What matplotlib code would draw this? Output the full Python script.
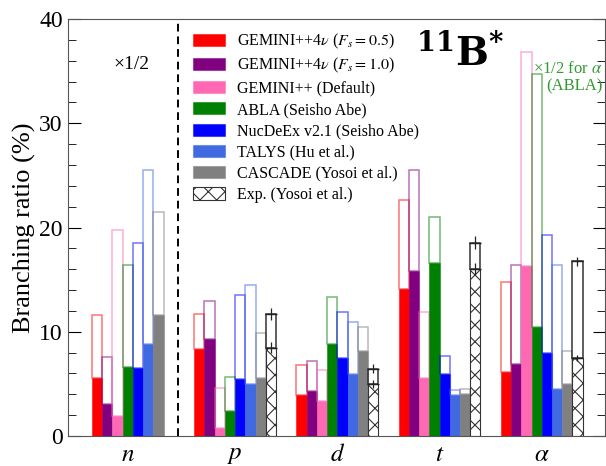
import numpy as np
import matplotlib
matplotlib.use('Agg')
import matplotlib.pyplot as plt
from matplotlib.colors import to_rgba

plt.rcParams['font.family'] = 'Liberation Serif'
plt.rcParams['mathtext.fontset'] = 'stix'
plt.rcParams['hatch.linewidth'] = 0.8

# Branching ratio data (%) for n, p, d, t, alpha
particles = [r'$n$', r'$p$', r'$d$', r'$t$', r'$\alpha$']

labels = [r'GEMINI++4$\nu$ ($F_s = 0.5$)', r'GEMINI++4$\nu$ ($F_s = 1.0$)',
          'GEMINI++ (Default)', 'ABLA (Seisho Abe)', 'NucDeEx v2.1 (Seisho Abe)',
          'TALYS (Hu et al.)', 'CASCADE (Yosoi et al.)']
colors = ['#ff0000', '#800080', '#ff69b4', '#008000', '#0000ff', '#4169e1', '#808080']

# filled part (lower) and outlined part (upper)
gem05_lo = [5.55, 8.35, 3.94, 14.1, 6.14]
gem10_lo = [3.07, 9.34, 4.35, 15.8, 6.94]
gemdf_lo = [1.95, 0.77, 3.39, 5.54, 16.3]
abla_lo  = [6.66, 2.43, 8.86, 16.6, 10.5]
nucde_lo = [6.56, 5.44, 7.46, 5.95, 7.97]
talys_lo = [8.86, 5.02, 5.95, 3.94, 4.54]
casc_lo  = [11.58, 5.54, 8.19, 4.06, 4.96]

gem05_up = [11.58, 11.68, 6.85, 22.6, 14.75]
gem10_up = [7.58, 12.96, 7.2, 25.5, 16.4]
gemdf_up = [19.76, 4.64, 6.37, 11.87, 36.8]
abla_up  = [16.4, 5.66, 13.3, 20.96, 34.7]
nucde_up = [18.5, 13.5, 11.94, 7.68, 19.26]
talys_up = [25.5, 14.5, 10.98, 4.38, 16.45]
casc_up  = [21.5, 9.89, 10.43, 4.48, 8.13]

exp_lo     = [np.nan, 8.48, 4.99, 16.0, 7.49]
exp_lo_err = [np.nan, 0.5, 0.4, 0.6, 0.3]
exp_up     = [np.nan, 11.68, 6.46, 18.56, 16.74]
exp_up_err = [np.nan, 0.55, 0.4, 0.6, 0.4]

lows = [gem05_lo, gem10_lo, gemdf_lo, abla_lo, nucde_lo, talys_lo, casc_lo]
ups  = [gem05_up, gem10_up, gemdf_up, abla_up, nucde_up, talys_up, casc_up]

fig = plt.figure(figsize=(6.06, 4.66), dpi=100)
ax = fig.add_axes([0.1114, 0.0644, 0.8871, 0.8948])

pos = np.arange(len(particles))
width = 0.1
handles = []
for i in range(7):
	x = pos - 0.35 + i * width
	lo = np.array(lows[i])
	up = np.array(ups[i])
	h = ax.bar(x, lo, width, color=colors[i], edgecolor=to_rgba(colors[i], 0.5), linewidth=0.8)
	ax.bar(x, up - lo, width, bottom=lo, facecolor='none',
	       edgecolor=to_rgba(colors[i], 0.55), linewidth=1.1)
	handles.append(h)

# experiment
x = pos[1:] - 0.35 + 7 * width
elo = np.array(exp_lo[1:])
eup = np.array(exp_up[1:])
h = ax.bar(x, elo, width, facecolor='white', edgecolor='#333333', hatch='xx', linewidth=0.8)
ax.bar(x, eup - elo, width, bottom=elo, facecolor='none', edgecolor='#333333', linewidth=1.1)
ax.errorbar(x, elo, yerr=exp_lo_err[1:], fmt='_', color='#222222', ms=8, elinewidth=0.9)
ax.errorbar(x, eup, yerr=exp_up_err[1:], fmt='_', color='#222222', ms=8, elinewidth=0.9)
handles.append(h)
labels.append('Exp. (Yosoi et al.)')

ax.axvline(0.44, color='black', linestyle='--', linewidth=1.4, dashes=(4, 2.5))

ax.set_xlim(-0.64, 4.62)
ax.set_ylim(0, 40)
ax.set_xticks([-0.05, 1, 2, 3, 4])
ax.set_xticklabels(particles, fontsize=18)
ax.tick_params(axis='x', length=0, pad=6)
ax.set_yticks(np.arange(0, 41, 10))
ax.set_yticks(np.arange(0, 41, 2), minor=True)
ax.tick_params(axis='y', which='both', direction='in', left=True, right=True, labelsize=17)
ax.tick_params(axis='y', which='major', length=9)
ax.tick_params(axis='y', which='minor', length=6)
ax.set_ylabel('Branching ratio (%)', fontsize=19, labelpad=2)
for s in ax.spines.values():
	s.set_color('#555555')

ax.legend(handles, labels, loc='upper left', bbox_to_anchor=(0.221, 0.985), frameon=False,
          fontsize=11.5, handlelength=2.0, handleheight=0.8, handletextpad=0.8,
          labelspacing=0.33, borderaxespad=0)

ax.text(0.119, 0.89, u'\u00d71/2', transform=ax.transAxes, fontsize=14, ha='center', va='center')
ax.text(0.995, 0.86, u'\u00d71/2 for $\\alpha$\n(ABLA)', transform=ax.transAxes, fontsize=12,
        color='#339933', ha='right', va='center', linespacing=1.1)
ax.text(0.73, 0.915, r'$\mathbf{^{11}B^{*}}$', transform=ax.transAxes, fontsize=28,
        ha='center', va='center', math_fontfamily='dejavuserif')

plt.savefig('out.png', dpi=100)
